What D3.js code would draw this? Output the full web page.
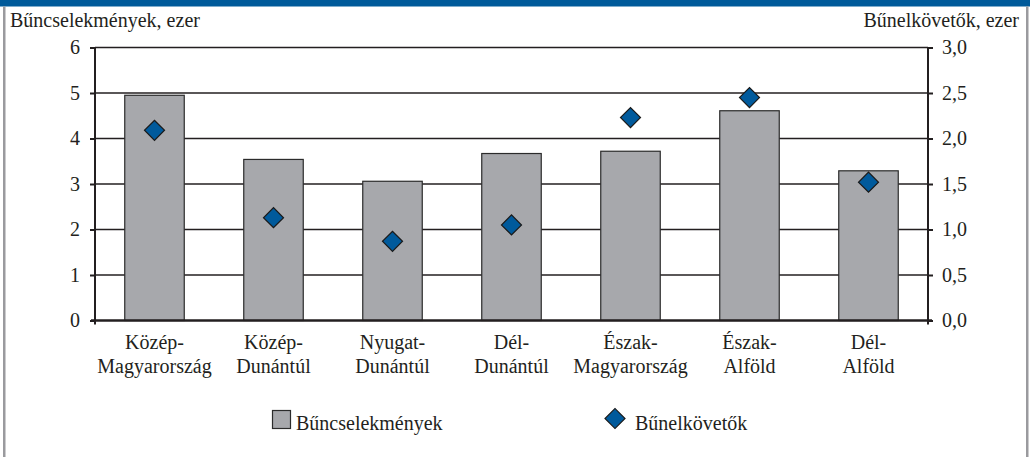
<!DOCTYPE html>
<html>
<head>
<meta charset="utf-8">
<script src="https://cdn.jsdelivr.net/npm/d3@7"></script>
<style>
	body { margin: 0; background: #fff; font-family: 'Liberation Serif', serif; }
	svg { display: block; }
	svg text { font-family: 'Liberation Serif', serif !important; font-size: 20px; fill: #231f20; }
</style>
</head>
<body>
<div id="chart"></div>
<script>
var regions = [
	['Közép-', 'Magyarország'],
	['Közép-', 'Dunántúl'],
	['Nyugat-', 'Dunántúl'],
	['Dél-', 'Dunántúl'],
	['Észak-', 'Magyarország'],
	['Észak-', 'Alföld'],
	['Dél-', 'Alföld']
];
var crimes = [4.95, 3.54, 3.06, 3.67, 3.72, 4.61, 3.29];
var offenders = [2.09, 1.13, 0.87, 1.05, 2.23, 2.45, 1.52];
var leftTicks = [0, 1, 2, 3, 4, 5, 6];
var rightTicks = [0, 0.5, 1, 1.5, 2, 2.5, 3];

var INK = '#231f20';
var width = 1030, height = 457;
var margin = {top: 47.5, right: 102, bottom: 136.5, left: 95};
var innerW = width - margin.left - margin.right,
	innerH = height - margin.top - margin.bottom;

var svg = d3.select('#chart').append('svg')
	.attr('width', width)
	.attr('height', height)
	.attr('font-family', 'Liberation Serif')
	.attr('font-size', 20);

// frame
svg.append('rect').attr('x', 0).attr('y', 0).attr('width', width).attr('height', 6.5).attr('fill', '#005a9a');
svg.append('rect').attr('x', 3).attr('y', 6.5).attr('width', 2.5).attr('height', height).attr('fill', '#9a9a9e');
svg.append('rect').attr('x', 1026).attr('y', 6.5).attr('width', 2.5).attr('height', height).attr('fill', '#9a9a9e');

var g = svg.append('g')
	.attr('transform', 'translate(' + margin.left + ',' + margin.top + ')');

var x = d3.scaleBand()
	.domain(d3.range(regions.length))
	.range([0, innerW])
	.paddingInner(0.5)
	.paddingOuter(0.25);

var yL = d3.scaleLinear().domain([0, 6]).range([innerH, 0]);
var yR = d3.scaleLinear().domain([0, 3]).range([innerH, 0]);

// gridlines
g.selectAll('.grid')
	.data(leftTicks.slice(1))
	.enter()
	.append('line')
	.attr('x1', 0)
	.attr('x2', innerW)
	.attr('y1', function(d) { return yL(d) })
	.attr('y2', function(d) { return yL(d) })
	.style('stroke', INK)
	.style('stroke-width', 1.4);

// bars
g.selectAll('.bar')
	.data(crimes)
	.enter()
	.append('rect')
	.attr('class', 'bar')
	.attr('x', function(d, i) { return x(i) })
	.attr('y', function(d) { return yL(d) })
	.attr('width', x.bandwidth())
	.attr('height', function(d) { return innerH - yL(d) })
	.style('fill', '#a7a8ac')
	.style('stroke', '#2b2b2b')
	.style('stroke-width', 1.2);

// axes
var leftAxis = d3.axisLeft(yL).tickValues(leftTicks).tickSize(5).tickPadding(10)
	.tickFormat(d3.format('d'));
var rightAxis = d3.axisRight(yR).tickValues(rightTicks).tickSize(5).tickPadding(9)
	.tickFormat(function(d) { return d3.format('.1f')(d).replace('.', ',') });

function styleAxis(sel) {
	sel.attr('font-family', 'Liberation Serif').attr('font-size', 20);
	sel.select('.domain').remove();
	sel.selectAll('line').style('stroke', INK).style('stroke-width', 2);
	sel.selectAll('text').attr('fill', INK);
}

g.append('g').call(leftAxis).call(styleAxis);
g.append('g').attr('transform', 'translate(' + innerW + ',0)').call(rightAxis).call(styleAxis);

g.append('line').attr('x1', 0).attr('x2', 0).attr('y1', 0).attr('y2', innerH + 4)
	.style('stroke', INK).style('stroke-width', 2);
g.append('line').attr('x1', innerW).attr('x2', innerW).attr('y1', 0).attr('y2', innerH + 4)
	.style('stroke', INK).style('stroke-width', 2);
g.append('line').attr('x1', -4).attr('x2', innerW + 4).attr('y1', innerH).attr('y2', innerH)
	.style('stroke', INK).style('stroke-width', 2.4);

// category labels
var cat = g.selectAll('.cat')
	.data(regions)
	.enter()
	.append('text')
	.attr('class', 'cat')
	.attr('text-anchor', 'middle');
cat.append('tspan')
	.attr('x', function(d, i) { return x(i) + x.bandwidth() / 2 })
	.attr('y', innerH + 28)
	.text(function(d) { return d[0] });
cat.append('tspan')
	.attr('x', function(d, i) { return x(i) + x.bandwidth() / 2 })
	.attr('y', innerH + 52)
	.text(function(d) { return d[1] });

// diamonds
var diamond = d3.symbol().type(d3.symbolSquare).size(200);
g.selectAll('.pt')
	.data(offenders)
	.enter()
	.append('path')
	.attr('class', 'pt')
	.attr('d', diamond)
	.attr('transform', function(d, i) {
		return 'translate(' + (x(i) + x.bandwidth() / 2) + ',' + yR(d) + ') rotate(45)';
	})
	.style('fill', '#005a9c')
	.style('stroke', '#1a1a1a')
	.style('stroke-width', 1.2);

// axis titles
svg.append('text').attr('x', 10).attr('y', 27)
	.text('Bűncselekmények, ezer');
svg.append('text').attr('x', 1019).attr('y', 27).attr('text-anchor', 'end')
	.text('Bűnelkövetők, ezer');

// legend
var leg = svg.append('g');
leg.append('rect').attr('x', 272.5).attr('y', 410.5).attr('width', 18).attr('height', 18)
	.style('fill', '#a7a8ac').style('stroke', '#2b2b2b').style('stroke-width', 1.2);
leg.append('text').attr('x', 296).attr('y', 430)
	.text('Bűncselekmények');
leg.append('path').attr('d', diamond)
	.attr('transform', 'translate(615,418.5) rotate(45)')
	.style('fill', '#005a9c').style('stroke', '#1a1a1a').style('stroke-width', 1.2);
leg.append('text').attr('x', 635).attr('y', 430)
	.text('Bűnelkövetők');
</script>
</body>
</html>
